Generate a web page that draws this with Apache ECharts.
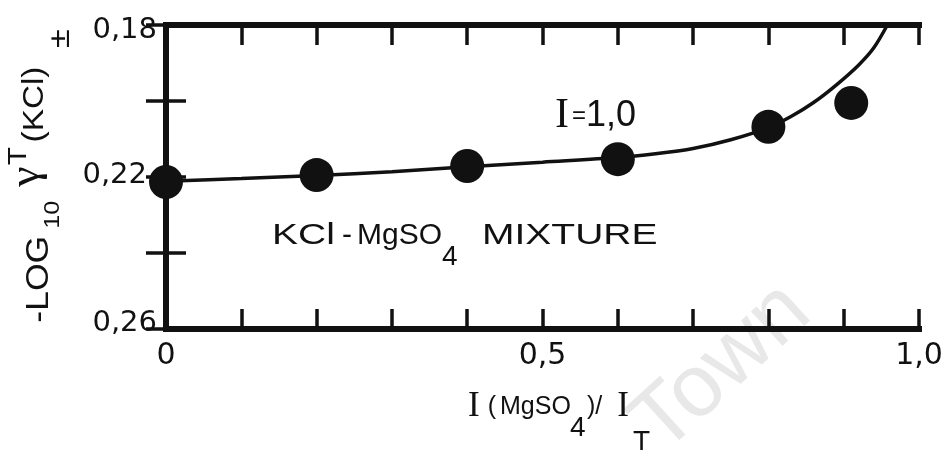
<!DOCTYPE html>
<html>
<head>
<meta charset="utf-8">
<script src="https://cdn.jsdelivr.net/npm/echarts@6/dist/echarts.min.js"></script>
<style>
  html, body { margin: 0; padding: 0; background: #ffffff; }
  #chart { width: 947px; height: 452px; }
</style>
</head>
<body>
<div id="chart"></div>
<script>
// Measured points: ionic strength fraction of MgSO4 vs -log10 gamma(KCl)
const fractionMgSO4 = [0, 0.2, 0.4, 0.6, 0.8, 0.91];
const negLogGamma = [0.2213, 0.2195, 0.2171, 0.2153, 0.2068, 0.2005];

// Calculated curve at I = 1.0
const curveFraction = [0, 0.1, 0.2, 0.3, 0.4, 0.5, 0.6, 0.65, 0.7, 0.75, 0.8, 0.83, 0.86, 0.89, 0.92, 0.94, 0.958];
const curveValue = [0.2211, 0.2204, 0.2196, 0.2186, 0.2173, 0.2161, 0.2149, 0.2139, 0.2125, 0.2102, 0.2070, 0.2041, 0.2004, 0.1958, 0.1905, 0.1860, 0.1800];

// Axis labels
const xLabelValues = [0, 0.5, 1.0];
const xLabelTexts = ['0', '0,5', '1,0'];
const yLabelValues = [0.18, 0.22, 0.26];
const yLabelTexts = ['0,18', '0,22', '0,26'];
const yLabelStyles = ['top', 'mid', 'bot'];

const SANS = '"Liberation Sans", Arial, Helvetica, sans-serif';
const WIDE = '"DejaVu Sans", "Liberation Sans", sans-serif';
const SERIF = '"Liberation Serif", "Times New Roman", serif';
const INK = '#111111';

function pickIndex(values, v) {
  for (let i = 0; i < values.length; i++) {
    if (Math.abs(values[i] - v) < 1e-6) return i;
  }
  return -1;
}

// plain text piece centred vertically on (x, y)
function piece(x, y, text, font, extra) {
  return Object.assign({
    type: 'text', x: x, y: y,
    style: { text: text, x: 0, y: 0, align: 'left', verticalAlign: 'middle', font: font, fill: INK }
  }, extra || {});
}

const frameLine = { show: true, lineStyle: { color: INK, width: 6, cap: 'square' } };
const innerTick = { show: true, inside: true, length: 20, lineStyle: { color: INK, width: 3.5 } };

const chart = echarts.init(document.getElementById('chart'), null, { renderer: 'canvas' });

chart.setOption({
  backgroundColor: '#ffffff',
  animation: false,
  grid: { left: 166, right: 28, top: 25, bottom: 123, containLabel: false },
  xAxis: [
    {
      type: 'value', min: 0, max: 1, interval: 0.1, position: 'bottom',
      axisLine: frameLine, axisTick: innerTick, splitLine: { show: false },
      axisLabel: {
        show: true, margin: 12, color: INK, fontSize: 30, fontFamily: WIDE,
        formatter: v => { const i = pickIndex(xLabelValues, v); return i < 0 ? '' : xLabelTexts[i]; }
      }
    },
    {
      type: 'value', min: 0, max: 1, interval: 0.1, position: 'top',
      axisLine: frameLine, axisTick: innerTick, splitLine: { show: false },
      axisLabel: { show: false }
    }
  ],
  yAxis: [
    {
      type: 'value', min: 0.18, max: 0.26, interval: 0.02, inverse: true, position: 'left',
      axisLine: frameLine, axisTick: innerTick, splitLine: { show: false },
      axisLabel: {
        show: true, margin: 9, color: INK, fontSize: 29, fontFamily: WIDE,
        formatter: v => {
          const i = pickIndex(yLabelValues, v);
          return i < 0 ? '' : '{' + yLabelStyles[i] + '|' + yLabelTexts[i] + '}';
        },
        rich: {
          top: { fontSize: 29, fontFamily: WIDE, color: INK, padding: [10, 0, 0, 0] },
          mid: { fontSize: 29, fontFamily: WIDE, color: INK, padding: [0, 10, 4, 0] },
          bot: { fontSize: 29, fontFamily: WIDE, color: INK, padding: [0, 0, 12, 0] }
        }
      }
    },
    {
      type: 'value', min: 0.18, max: 0.26, interval: 0.02, inverse: true, position: 'right',
      axisLine: frameLine, axisTick: innerTick, splitLine: { show: false },
      axisLabel: { show: false }
    }
  ],
  graphic: [
    // faint watermark behind the plot
    {
      type: 'text', x: 722, y: 368, rotation: 0.74, z: -10, silent: true,
      style: {
        text: 'Town', x: 0, y: 0, align: 'center', verticalAlign: 'middle',
        font: '88px ' + SANS, fill: '#e8e8e8'
      }
    },
    // y-axis title
    {
      type: 'text', x: 39, y: 176, rotation: Math.PI / 2, scaleX: 1.15,
      style: {
        text: '{a|-LOG}{n|10}{g|γ}{t|T}{k|(KCl)}{pm|±}',
        x: 0, y: 0, align: 'center', verticalAlign: 'middle',
        rich: {
          a: { fontFamily: SANS, fontSize: 31, fill: INK, lineHeight: 50 },
          n: { fontFamily: SANS, fontSize: 22, fill: INK, verticalAlign: 'bottom', height: 23, padding: [0, 0, 0, 6] },
          g: { fontFamily: SERIF, fontSize: 40, fill: INK, verticalAlign: 'top', height: 27, padding: [0, 0, 0, 12] },
          t: { fontFamily: SANS, fontSize: 26, fill: INK, verticalAlign: 'top', height: 9, padding: [0, 0, 0, 1] },
          k: { fontFamily: SANS, fontSize: 29, fill: INK, verticalAlign: 'top', height: 42, padding: [0, 0, 0, 4] },
          pm: { fontFamily: SANS, fontSize: 30, fill: INK, verticalAlign: 'bottom', height: 6, padding: [0, 0, 0, 16] }
        }
      }
    },
    // x-axis title: I(MgSO4)/I_T
    {
      type: 'text', x: 468, y: 407,
      style: {
        text: '{i|I}{p|(}{m|MgSO}', x: 0, y: 0, align: 'left', verticalAlign: 'middle',
        rich: {
          i: { fontFamily: SERIF, fontSize: 35, fill: INK, lineHeight: 40 },
          p: { fontFamily: SANS, fontSize: 25, fill: INK, lineHeight: 40, padding: [0, 0, 0, 8] },
          m: { fontFamily: SANS, fontSize: 25, fill: INK, lineHeight: 40, padding: [0, 0, 0, 4] }
        }
      }
    },
    piece(570, 428, '4', '28px ' + SANS),
    {
      type: 'text', x: 587, y: 407,
      style: {
        text: '{q|)/}{j|I}', x: 0, y: 0, align: 'left', verticalAlign: 'middle',
        rich: {
          q: { fontFamily: SANS, fontSize: 25, fill: INK, lineHeight: 40 },
          j: { fontFamily: SERIF, fontSize: 35, fill: INK, lineHeight: 40, padding: [0, 0, 0, 15] }
        }
      }
    },
    piece(633, 442, 'T', '28px ' + SANS),
    // ionic strength annotation
    {
      type: 'text', x: 555, y: 116,
      style: {
        text: '{i|I}{e|=}{v|1,0}',
        x: 0, y: 0, align: 'left', verticalAlign: 'middle',
        rich: {
          i: { fontFamily: SERIF, fontSize: 42, fill: INK, lineHeight: 50 },
          e: { fontFamily: SANS, fontSize: 24, fill: INK, lineHeight: 50, padding: [0, 0, 0, 3] },
          v: { fontFamily: SANS, fontSize: 36, fill: INK, lineHeight: 50 }
        }
      }
    },
    // mixture annotation, lettered word by word
    piece(272, 236, 'KCl', '30px ' + SANS, { scaleX: 1.3 }),
    piece(342, 236, '-', '30px ' + SANS),
    piece(357, 236, 'MgSO', '30px ' + SANS),
    piece(442, 257, '4', '28px ' + SANS),
    piece(482, 236, 'MIXTURE', '30px ' + SANS, { scaleX: 1.3 })
  ],
  series: [
    {
      type: 'line', xAxisIndex: 0, yAxisIndex: 0,
      data: curveFraction.map((x, i) => [x, curveValue[i]]),
      smooth: 0.3, showSymbol: false, symbol: 'none', clip: true,
      lineStyle: { color: INK, width: 3.5 }, z: 3
    },
    {
      type: 'scatter', xAxisIndex: 0, yAxisIndex: 0,
      data: fractionMgSO4.map((x, i) => [x, negLogGamma[i]]),
      symbol: 'circle', symbolSize: 34, clip: false,
      itemStyle: { color: INK, opacity: 1 }, z: 4
    }
  ]
});
</script>
</body>
</html>
